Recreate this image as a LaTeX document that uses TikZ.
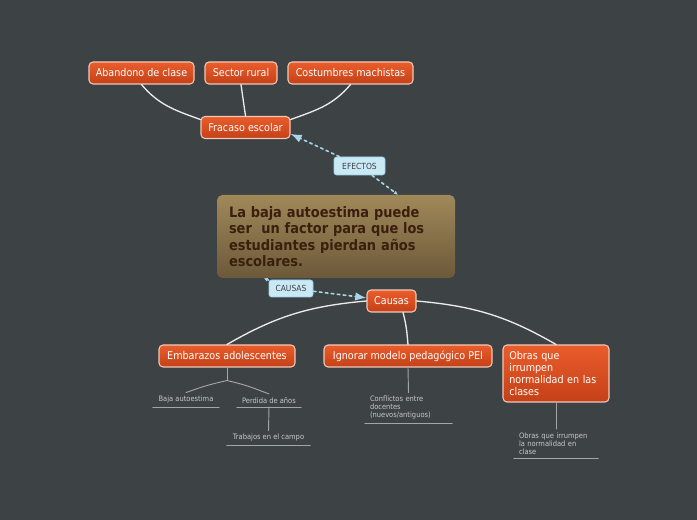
\documentclass[tikz,border=0pt]{standalone}
\usepackage{fontspec}
\setmainfont{DejaVu Sans Condensed}
\usetikzlibrary{arrows.meta}

\begin{document}
\begin{tikzpicture}[x=0.75pt,y=0.75pt,>=Latex,line cap=round,line join=round]

% Colors
\definecolor{mapbg}{RGB}{61,66,68}
\definecolor{topictop}{RGB}{234,93,43}
\definecolor{topicbot}{RGB}{196,64,24}
\definecolor{topicedge}{RGB}{240,200,184}
\definecolor{ideatop}{RGB}{160,136,89}
\definecolor{ideabot}{RGB}{108,89,57}
\definecolor{ideatext}{RGB}{59,31,14}
\definecolor{relfill}{RGB}{201,233,246}
\definecolor{reledge}{RGB}{160,208,230}
\definecolor{relline}{RGB}{166,214,234}
\definecolor{leafgray}{RGB}{200,200,200}
\definecolor{leafline}{RGB}{165,165,165}

% Styles
\tikzset{
  topic/.style={draw=topicedge,line width=0.8pt,rounded corners=3pt,
    top color=topictop,bottom color=topicbot,text=white,
    font=\fontsize{8}{8.8}\selectfont,inner sep=0pt,minimum height=16.5pt},
  mainidea/.style={rounded corners=4pt,top color=ideatop,bottom color=ideabot,
    text=ideatext,font=\fontsize{10.8}{12.4}\selectfont\bfseries,
    align=left,inner xsep=9pt,inner ysep=0pt},
  rellabel/.style={draw=reledge,line width=0.6pt,fill=relfill,rounded corners=2pt,
    text=black!75,font=\fontsize{6.3}{7}\selectfont,inner sep=0pt},
  leaf/.style={text=leafgray,font=\fontsize{5.6}{6}\selectfont,
    inner xsep=3.75pt,inner ysep=2.5pt},
  branch/.style={draw=white!92!black,line width=1pt},
  leafwire/.style={draw=leafline,line width=0.7pt},
  rel/.style={draw=relline,line width=1.2pt,dash pattern=on 2pt off 2.5pt}
}

% Background
\fill[mapbg] (0,0) rectangle (697,-520);

% Effects
\node[topic,minimum width=78.75pt] (abandono) at (141.5,-73) {Abandono de clase};
\node[topic,minimum width=54pt] (sector) at (241,-73) {Sector rural};
\node[topic,minimum width=93.75pt] (costumbres) at (350.5,-73) {Costumbres machistas};
\node[topic,minimum width=66.75pt] (fracaso) at (245.5,-127.5) {Fracaso escolar};

% Central idea
\node[mainidea,text width=160.5pt,minimum height=62.25pt] (central) at (336,-236.5)
  {La baja autoestima puede\\ser\ \ un factor para que los\\estudiantes pierdan años\\escolares.};

% Relationship labels
\node[rellabel,minimum width=38.25pt,minimum height=13.5pt] (efectos) at (359.5,-166) {EFECTOS};
\node[rellabel,minimum width=33pt,minimum height=12.75pt] (causaslbl) at (291,-288.5) {CAUSAS};

% Causes
\node[topic,minimum width=36.75pt] (causas) at (391.5,-301) {Causas};
\node[topic,minimum width=102pt] (embarazos) at (227,-356) {Embarazos adolescentes};
\node[topic,minimum width=126pt] (ignorar) at (408,-356) {Ignorar modelo pedagógico PEI};
\node[topic,text width=70pt,align=left,inner xsep=4.75pt,minimum height=42.75pt] (obras) at (556,-373.5)
  {Obras que\\irrumpen\\normalidad en las\\clases};

% Notes under the causes
\node[leaf,minimum width=49.5pt,anchor=south] (baja) at (186,-407) {Baja autoestima};
\node[leaf,minimum width=48pt,anchor=south] (perdida) at (269,-407) {Perdida de años};
\node[leaf,minimum width=62.25pt,anchor=south] (trabajos) at (268.5,-445) {Trabajos en el campo};
\node[leaf,text width=57.75pt,align=left,anchor=south] (conflictos) at (408.5,-423)
  {Conflictos entre\\docentes\\(nuevos/antiguos)};
\node[leaf,text width=55.5pt,align=left,anchor=south] (obrasnota) at (556,-458)
  {Obras que irrumpen\\la normalidad en\\clase};

% Underlines of the notes
\foreach \n in {baja,perdida,trabajos,conflictos,obrasnota} {
  \draw[leafwire] (\n.south west) -- (\n.south east);
}

% Branches to the effects
\draw[branch] (abandono.south) to[out=-50,in=160] (fracaso.170);
\draw[branch] (sector.south) -- (fracaso.north);
\draw[branch] (costumbres.south) to[out=-130,in=20] (fracaso.10);

% Branches to the causes
\draw[branch] (causas.west) to[out=185,in=30] (embarazos.north);
\draw[branch] (causas.-45) to[out=-75,in=95] (ignorar.north);
\draw[branch] (causas.east) to[out=-5,in=150] (obras.north);

% Wires to the notes
\draw[leafwire] (embarazos.south) -- ++(0,-13) coordinate (fork);
\draw[leafwire] (fork) .. controls +(-22,-5) and +(14,5) .. (baja.north);
\draw[leafwire] (fork) .. controls +(22,-5) and +(-14,5) .. (perdida.north);
\draw[leafwire] (perdida.south) -- (trabajos.north);
\draw[leafwire] (ignorar.south) -- (conflictos.north);
\draw[leafwire] (obras.south) -- (obrasnota.north);

% Dashed relationships
\draw[rel,->] (efectos) -- (fracaso.-8);
\draw[rel,-{Latex[length=3pt,width=3pt]}] (efectos) -- (central.34);
\draw[rel,{Latex[length=3pt,width=3pt]}-] (central.-150) -- (causaslbl);
\draw[rel,->] (causaslbl) -- (causas);

\end{tikzpicture}
\end{document}
